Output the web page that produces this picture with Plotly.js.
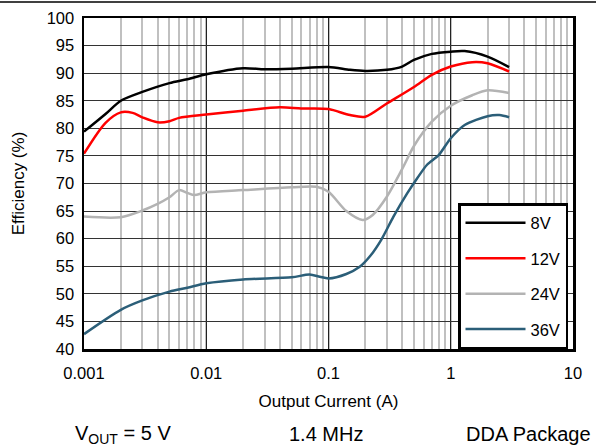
<!DOCTYPE html>
<html>
<head>
<meta charset="utf-8">
<script src="https://cdn.plot.ly/plotly-3.0.1.min.js"></script>
<style>html,body{margin:0;padding:0;background:#fff;}</style>
</head>
<body>
<div id="chart" style="width:596px;height:447px;"></div>
<script>
const seriesNames = ["8V", "12V", "24V", "36V"];
const seriesColors = ["#000000", "#ff0000", "#b3b3b3", "#2b5e78"];

const x8 = [0.001, 0.0015, 0.002, 0.003, 0.005, 0.007, 0.01, 0.02, 0.03, 0.05, 0.1, 0.15, 0.2, 0.3, 0.4, 0.5, 0.7, 1, 1.3, 2, 3];
const y8 = [79.4, 82.6, 85.0, 86.6, 88.2, 88.9, 89.8, 90.9, 90.7, 90.8, 91.1, 90.6, 90.4, 90.6, 91.2, 92.4, 93.5, 93.9, 94.0, 93.0, 91.1];

const x12 = [0.001, 0.0015, 0.002, 0.0025, 0.003, 0.004, 0.005, 0.006, 0.01, 0.02, 0.04, 0.06, 0.1, 0.15, 0.2, 0.3, 0.5, 0.7, 1, 1.5, 2, 3];
const y12 = [75.4, 81.0, 82.9, 82.8, 82.0, 81.1, 81.3, 81.9, 82.5, 83.2, 83.8, 83.6, 83.5, 82.4, 82.1, 84.5, 87.5, 89.7, 91.2, 92.0, 91.8, 90.3];

const x24 = [0.001, 0.002, 0.003, 0.004, 0.005, 0.006, 0.007, 0.008, 0.01, 0.02, 0.05, 0.08, 0.1, 0.14, 0.19, 0.23, 0.3, 0.4, 0.5, 0.7, 1, 1.5, 2, 3];
const y24 = [64.0, 63.9, 65.1, 66.3, 67.5, 68.8, 68.3, 67.9, 68.4, 68.8, 69.3, 69.4, 68.5, 65.0, 63.4, 64.3, 67.6, 72.6, 76.8, 81.2, 84.1, 86.0, 86.9, 86.4];

const x36 = [0.001, 0.002, 0.003, 0.005, 0.007, 0.01, 0.02, 0.05, 0.07, 0.085, 0.1, 0.14, 0.18, 0.22, 0.27, 0.34, 0.44, 0.53, 0.64, 0.8, 1, 1.3, 2, 2.5, 3];
const y36 = [42.7, 47.1, 48.8, 50.4, 51.1, 51.9, 52.6, 53.0, 53.5, 53.1, 52.8, 53.6, 54.9, 56.9, 59.8, 64.0, 68.2, 70.9, 73.4, 75.2, 78.2, 80.6, 82.2, 82.4, 82.0];

const xs = [x8, x12, x24, x36];
const ys = [y8, y12, y24, y36];

const xTitle = "Output Current (A)";
const yTitle = "Efficiency (%)";
const footnotes = ["V<sub>OUT</sub> = 5 V", "1.4 MHz", "DDA Package"];

const FONT = "Liberation Sans, Arial, sans-serif";

const traces = seriesNames.map((n, i) => ({
  x: xs[i], y: ys[i], name: n, type: "scatter", mode: "lines",
  legendgroup: "g" + i,
  line: {color: seriesColors[i], width: 2.5, shape: "spline", smoothing: 0.8}
}));

const layout = {
  width: 596, height: 447,
  margin: {l: 84, r: 23, t: 18, b: 98},
  paper_bgcolor: "#fff", plot_bgcolor: "#fff",
  font: {family: FONT, size: 16.5, color: "#000"},
  showlegend: true,
  legend: {
    x: 374/489, y: 0, xanchor: "left", yanchor: "bottom",
    bgcolor: "#fff", bordercolor: "#000", borderwidth: 2.5,
    font: {family: FONT, size: 16.5, color: "#000"},
    traceorder: "grouped", tracegroupgap: 11, itemwidth: 60,
    entrywidth: 110, entrywidthmode: "pixels"
  },
  xaxis: {
    type: "log", range: [-3, 1], dtick: 1,
    tickvals: [0.001, 0.01, 0.1, 1, 10],
    ticktext: ["0.001", "0.01", "0.1", "1", "10"],
    showgrid: true, gridcolor: "#222", gridwidth: 1,
    minor: {dtick: "D1", showgrid: true, gridcolor: "#c0c0c0", gridwidth: 2, ticks: ""},
    showline: true, linecolor: "#000", linewidth: 2.5, mirror: true,
    ticks: "", zeroline: false,
    tickfont: {family: FONT, size: 16.5},
    ticklabelstandoff: 8,
    title: {text: xTitle, font: {family: FONT, size: 17}, standoff: 14}
  },
  yaxis: {
    range: [40, 100], dtick: 5, tick0: 40,
    showgrid: true, gridcolor: "#333", gridwidth: 1,
    showline: true, linecolor: "#000", linewidth: 2.5, mirror: true,
    ticks: "", zeroline: false,
    tickfont: {family: FONT, size: 16.5},
    ticklabelstandoff: 4,
    title: {text: yTitle, font: {family: FONT, size: 17}, standoff: 18}
  },
  shapes: [{
    type: "line", xref: "paper", yref: "paper",
    x0: -84/489, x1: 512/489, y0: 347/331, y1: 347/331,
    line: {color: "#000", width: 1.5}
  }],
  annotations: [
    {text: footnotes[0], xref: "paper", yref: "paper", x: (123-84)/489, y: (349-434)/331, xanchor: "center", yanchor: "middle", showarrow: false, font: {family: FONT, size: 20}},
    {text: footnotes[1], xref: "paper", yref: "paper", x: (326-84)/489, y: (349-434)/331, xanchor: "center", yanchor: "middle", showarrow: false, font: {family: FONT, size: 20}},
    {text: footnotes[2], xref: "paper", yref: "paper", x: (528-84)/489, y: (349-434)/331, xanchor: "center", yanchor: "middle", showarrow: false, font: {family: FONT, size: 20}}
  ]
};

Plotly.newPlot("chart", traces, layout, {displayModeBar: false, staticPlot: true});
</script>
</body>
</html>
